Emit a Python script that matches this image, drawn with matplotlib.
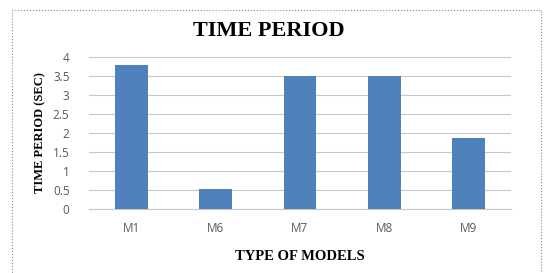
import matplotlib.pyplot as plt
import numpy as np
from matplotlib.patches import Rectangle

models = ['M1', 'M6', 'M7', 'M8', 'M9']
time_period = [3.78, 0.52, 3.5, 3.5, 1.88]
y_ticks = [0, 0.5, 1, 1.5, 2, 2.5, 3, 3.5, 4]
y_tick_labels = ['0', '0.5', '1', '1.5', '2', '2.5', '3', '3.5', '4']

W, H = 544, 273
fig = plt.figure(figsize=(W / 100, H / 100), dpi=100)
fig.patch.set_facecolor('white')

# plot area in pixels: x 89..511, y 57..209
ax = fig.add_axes([89 / W, 1 - 209 / H, (511 - 89) / W, (209 - 57) / H])

x = np.arange(len(models))
ax.bar(x, time_period, width=0.39, color='#4F81BD', zorder=3)

ax.set_xlim(-0.5, len(models) - 0.5)
ax.set_ylim(0, 4)
ax.set_yticks(y_ticks)
ax.set_yticklabels(y_tick_labels, fontsize=8.5, color='#595959', family='Open Sans')
ax.set_xticks(x)
ax.set_xticklabels(models, fontsize=8.5, color='#595959', family='Open Sans')
ax.tick_params(axis='both', length=0)
ax.tick_params(axis='y', pad=14)
ax.tick_params(axis='x', pad=9)
ax.grid(axis='y', color='#c8c8c8', linewidth=0.8, zorder=0)

for side in ['left', 'right', 'top']:
    ax.spines[side].set_visible(False)
ax.spines['bottom'].set_color('#c8c8c8')

ax.set_ylabel('TIME PERIOD (SEC)', fontsize=9, fontweight='bold',
              family='Liberation Serif', labelpad=5)
ax.set_xlabel('TYPE OF MODELS', fontsize=10.5, fontweight='bold',
              family='Liberation Serif', labelpad=11)

fig.text(269 / W, 1 - 31 / H, 'TIME PERIOD', ha='center', va='center',
         fontsize=16, fontweight='bold', family='Liberation Serif')

# dotted frame around the chart
fig.patches.append(Rectangle((12 / W, -0.1), (541 - 12) / W, 1 - 10 / H + 0.1,
                             transform=fig.transFigure, fill=False,
                             edgecolor='#888888', linestyle=':', linewidth=0.8))

plt.savefig('out.png', dpi=100)
plt.close()
